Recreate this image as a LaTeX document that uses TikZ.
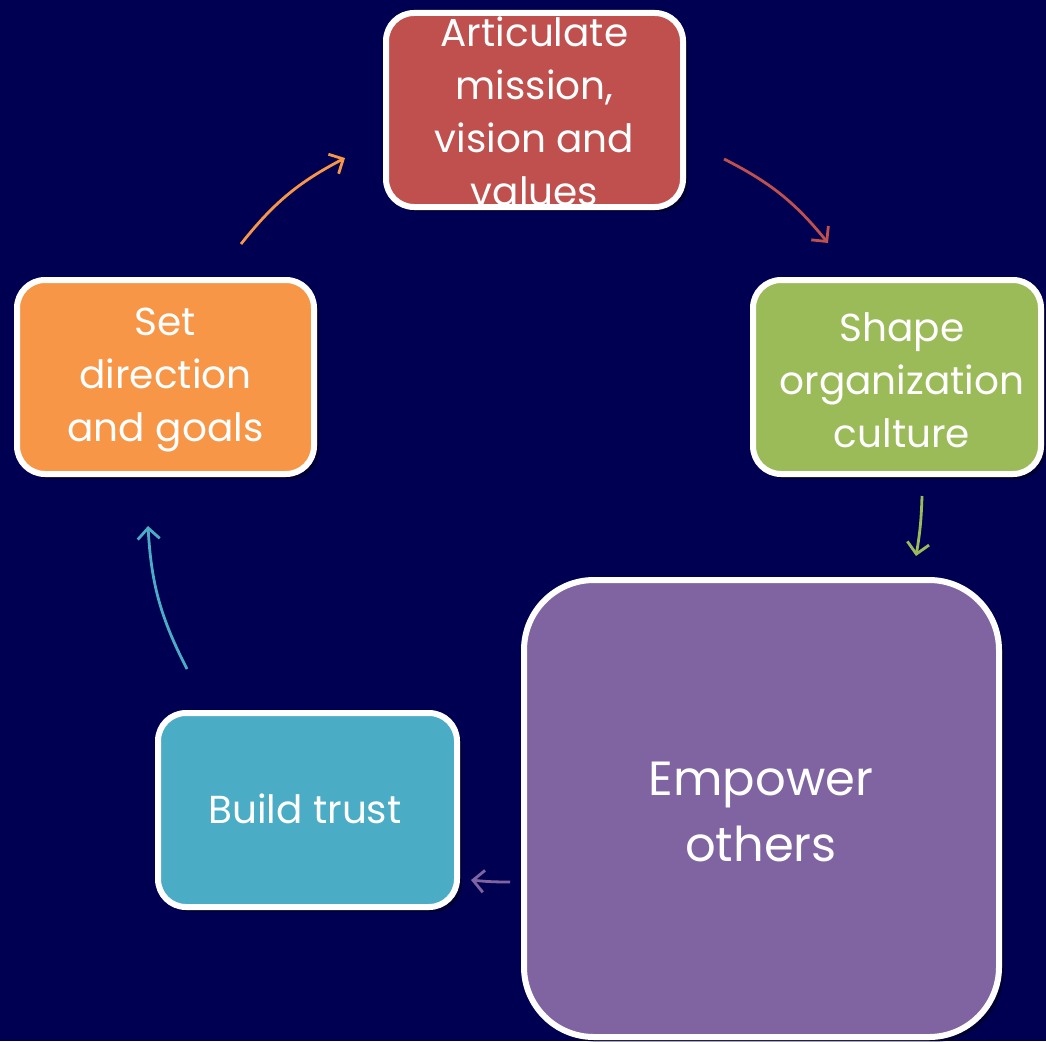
\documentclass[tikz,border=0pt]{standalone}
\usepackage{fontspec}
\setmainfont{Poppins}
\usetikzlibrary{arrows.meta,shadows}
\definecolor{bg}{RGB}{0,0,82}
\definecolor{cred}{RGB}{192,80,77}
\definecolor{corange}{RGB}{247,150,70}
\definecolor{cgreen}{RGB}{155,187,89}
\definecolor{cpurple}{RGB}{128,100,162}
\definecolor{cblue}{RGB}{75,172,198}
\begin{document}
\begin{tikzpicture}[x=1pt,y=-1pt,
  card/.style={draw=white, line width=6pt, rounded corners=28pt, inner sep=0pt,
    drop shadow={shadow xshift=5pt, shadow yshift=-5pt, opacity=0.35, fill=black}},
  cardtext/.style={text=white, align=center, inner sep=0pt, font=\fontsize{39}{53}\selectfont},
  flow/.style={line width=2.8pt, -{Straight Barb[length=11pt,width=22pt,line width=2.8pt]}}]
% page background
\fill[bg] (0,0) rectangle (1046,1041);
\useasboundingbox (0,0) rectangle (1046,1041);

% cards
\node[card, fill=cred, minimum width=297pt, minimum height=194pt] (mission) at (534.5,110) {};
\node[cardtext] (missiontext) at (534.5,111) {Articulate\\mission,\\vision and\\values};

\node[card, fill=cgreen, minimum width=288pt, minimum height=194pt] (culture) at (897,377) {};
\node[cardtext] (culturetext) at (902,380) {Shape\\organization\\culture};

\node[card, fill=cpurple, minimum width=475pt, minimum height=457pt, rounded corners=70pt] (empower) at (761.5,808.5) {};
\node[cardtext, font=\fontsize{48}{66}\selectfont] (empowertext) at (761,812) {Empower\\others};

\node[card, fill=cblue, minimum width=299pt, minimum height=194pt] (trust) at (307.5,810) {};
\node[cardtext] (trusttext) at (305,809) {Build trust};

\node[card, fill=corange, minimum width=297pt, minimum height=194pt] (direction) at (165.5,377) {};
\node[cardtext] (directiontext) at (165.5,380) {Set\\direction\\and goals};

% arrow end points in the gaps between cards
\coordinate (d2m) at (241,244);  \coordinate (m2d) at (345,158);
\coordinate (m2c) at (724,159);  \coordinate (c2m) at (828,243);
\coordinate (c2e) at (922,496);  \coordinate (e2c) at (916,556);
\coordinate (e2t) at (510,882);  \coordinate (t2e) at (471,880);
\coordinate (t2d) at (187,669);  \coordinate (d2t) at (148,526);

% cycle arrows
\draw[flow, corange] (d2m) to[bend left=12] (m2d);
\draw[flow, cred]    (m2c) to[bend left=12] (c2m);
\draw[flow, cgreen]  (c2e) to[bend left=4]  (e2c);
\draw[flow, cpurple] (e2t) to[bend left=3]  (t2e);
\draw[flow, cblue]   (t2d) to[bend left=12] (d2t);
\end{tikzpicture}
\end{document}
